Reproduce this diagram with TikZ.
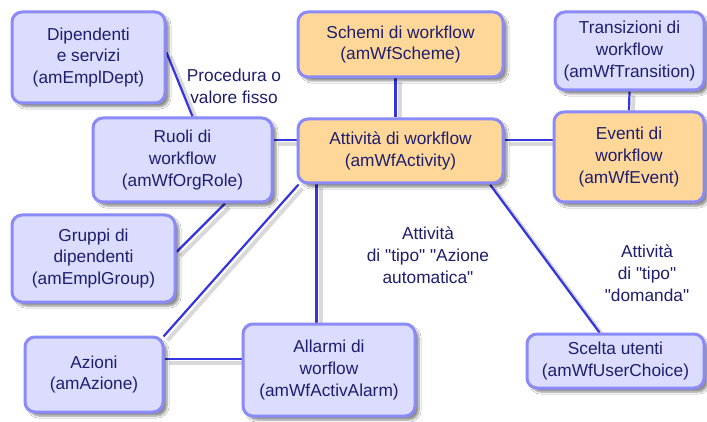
\documentclass[tikz,border=0pt]{standalone}
\usepackage{fontspec}
\setmainfont{Liberation Sans}[Ligatures=TeXOff]
\usetikzlibrary{shadows.blur,calc,backgrounds}
\definecolor{bfill}{HTML}{DCDCFF}
\definecolor{bdraw}{HTML}{8A8AF8}
\definecolor{ofill}{HTML}{FFD799}
\definecolor{lcol}{HTML}{3535E0}
\definecolor{tcol}{HTML}{1E1E6E}
\begin{document}
\begin{tikzpicture}[x=1pt,y=-1pt,
  every node/.style={font=\fontsize{17.3}{21.8}\selectfont, text=tcol, align=center, inner sep=0pt},
  bbox/.style={draw=bdraw, line width=3pt, rounded corners=10pt, fill=bfill,
     blur shadow={shadow xshift=4pt, shadow yshift=-4pt, shadow blur steps=6, shadow opacity=45}},
  obox/.style={bbox, fill=ofill},
  conn/.style={draw=lcol, line width=2.2pt,
     preaction={draw=black!15, line width=4pt, transform canvas={shift={(4pt,-4pt)}}}},
  lbl/.style={}]
\useasboundingbox (0,0) rectangle (707,422);

\node[bbox, minimum width=153pt, minimum height=91pt] (dip) at (88.5,57.5) {Dipendenti\\e servizi\\(amEmplDept)};
\node[bbox, minimum width=179pt, minimum height=84pt] (ruoli) at (182.5,160) {Ruoli di\\workflow\\(amWfOrgRole)};
\node[obox, minimum width=205pt, minimum height=65pt] (schemi) at (400.5,44.5) {Schemi di workflow\\(amWfScheme)};
\node[obox, minimum width=205pt, minimum height=64pt] (att) at (400.5,151) {Attività di workflow\\(amWfActivity)};
\node[bbox, minimum width=149pt, minimum height=78pt] (trans) at (629.5,51) {Transizioni di\\workflow\\(amWfTransition)};
\node[obox, minimum width=150pt, minimum height=90pt] (ev) at (629,157) {Eventi di\\workflow\\(amWfEvent)};
\node[bbox, minimum width=163pt, minimum height=87pt] (grp) at (93.5,258.5) {Gruppi di\\dipendenti\\(amEmplGroup)};
\node[bbox, minimum width=138pt, minimum height=75pt] (az) at (94,374.5) {Azioni\\(amAzione)};
\node[bbox, minimum width=172pt, minimum height=92pt] (all) at (329,370) {Allarmi di\\worflow\\(amWfActivAlarm)};
\node[bbox, minimum width=177pt, minimum height=54pt] (sc) at (615.5,361) {Scelta utenti\\(amWfUserChoice)};

\node[lbl] (proc) at (234,86) {Procedura o\\valore fisso};
\node[lbl] (auto) at (428,255) {Attività\\di "tipo" "Azione\\automatica"};
\node[lbl] (dom) at (647,273) {Attività\\di "tipo"\\"domanda"};

\begin{scope}[on background layer]
\fill[white] (0,0) rectangle (707,422);
\draw[conn] ($(dip.east)+(0,-5)$) -- ($(ruoli.north)+(10,0)$);
\draw[conn] ($(ruoli.east)+(0,-20)$) -- ($(att.west)+(0,-11)$);
\draw[conn] ($(schemi.south)+(-5,0)$) -- ($(att.north)+(-5,0)$);
\draw[conn] (trans.south) -- (ev.north);
\draw[conn] ($(att.east)+(0,-11)$) -- ($(ev.west)+(0,-17)$);
\draw[conn] ($(att.south)+(89.5,0)$) -- ($(sc.north)+(-16,0)$);
\draw[conn] ($(ruoli.south)+(42.5,0)$) -- ($(grp.east)+(0,-6.5)$);
\draw[conn] ($(att.south west)+(2,0)$) -- ($(az.north east)+(-1,1)$);
\draw[conn] ($(att.south west)+(20,0)$) -- ($(all.north west)+(75,0)$);
\draw[conn] ($(az.east)+(0,-15.5)$) -- ($(all.west)+(0,-11)$);
\end{scope}
\end{tikzpicture}
\end{document}
